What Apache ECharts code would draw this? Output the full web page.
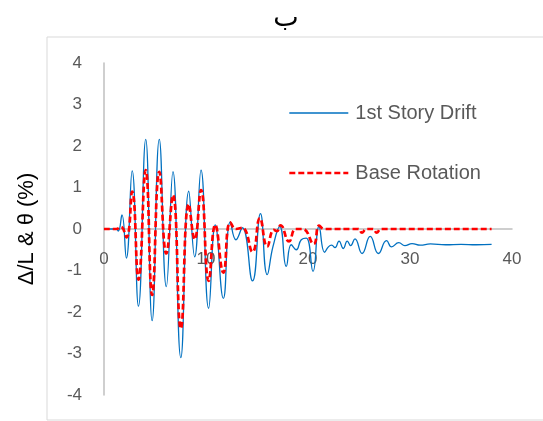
<!DOCTYPE html>
<html>
<head>
<meta charset="utf-8">
<script src="https://cdn.jsdelivr.net/npm/echarts@6/dist/echarts.min.js"></script>
<style>
html,body{margin:0;padding:0;background:#fff;}
#chart{width:543px;height:421px;}
</style>
</head>
<body>
<div id="chart"></div>
<script>
// ---- data ----
var titleText = 'ب';
var yAxisName = 'Δ/L & θ (%)';
var seriesNames = ['1st Story Drift', 'Base Rotation'];

var driftT = [0, 1.2, 1.4, 1.76, 2.19, 2.76, 3.38, 4.09, 4.72, 5.42, 6.11, 6.76, 7.53, 8.31, 8.89, 9.51, 10.26, 10.91, 11.7, 12.38, 12.94, 13.56, 14.56, 15.34, 16.0, 16.57, 17.23, 17.87, 18.36, 18.85, 19.34, 19.83, 20.49, 21.08, 21.63, 22.0, 22.32, 22.65, 23.04, 23.46, 23.85, 24.18, 24.6, 25.3, 26.1, 26.9, 27.7, 28.2, 28.9, 29.5, 30.2, 31.0, 32.0, 33.5, 35.0, 36.5, 38.0];
var driftV = [0, 0, -0.05, 0.34, -0.70, 1.40, -1.86, 2.16, -2.21, 2.16, -1.39, 1.38, -3.10, 0.91, -0.67, 1.42, -1.91, 0.10, -1.67, 0.17, -0.26, 0.03, -1.25, 0.37, -1.10, -0.42, 0.06, -0.90, -0.38, -0.50, -0.26, -0.22, -1.02, 0.06, -0.56, -0.43, -0.39, -0.45, -0.29, -0.47, -0.29, -0.40, -0.24, -0.59, -0.18, -0.59, -0.28, -0.43, -0.33, -0.40, -0.35, -0.39, -0.36, -0.38, -0.37, -0.38, -0.37];

var rotT = [0, 1.2, 1.65, 2.2, 2.76, 3.38, 4.09, 4.72, 5.42, 6.11, 6.76, 7.53, 8.31, 8.89, 9.51, 10.26, 10.91, 11.7, 12.38, 12.94, 13.56, 14.56, 15.28, 16.0, 16.65, 16.95, 17.3, 18.14, 18.8, 19.5, 20.55, 21.1, 21.6, 24.9, 25.3, 25.7, 26.35, 26.75, 27.15, 38.0];
var rotV = [0, 0, 0.05, -0.20, 0.90, -1.22, 1.42, -1.59, 1.38, -0.59, 0.82, -2.40, 0.60, -0.25, 0.94, -1.25, 0.10, -1.05, 0.16, 0.0, 0.03, -0.55, 0.26, -0.42, -0.02, -0.05, 0.09, -0.30, 0.0, 0.0, -0.36, 0.08, 0.0, 0.0, -0.09, 0.0, 0.0, -0.09, 0.0, 0.0];

var xTicks = {min: 0, max: 40, interval: 10};
var yTicks = {min: -4, max: 4, interval: 1};

function pairs(t, v) { return t.map(function (x, i) { return [x, v[i]]; }); }

var chart = echarts.init(document.getElementById('chart'), null, {renderer: 'canvas'});
chart.setOption({
  animation: false,
  backgroundColor: '#ffffff',
  graphic: [
    {type: 'rect', shape: {x: 47, y: 37, width: 520, height: 383}, style: {fill: 'none', stroke: '#D9D9D9', lineWidth: 1}, z: -1},
    {type: 'text', x: 286, y: 19, style: {text: titleText, font: '27px "DejaVu Sans"', fill: '#000000', textAlign: 'center', textVerticalAlign: 'middle'}}
  ],
  grid: {left: 104, right: 31, top: 63, bottom: 26, containLabel: false, outerBoundsMode: 'none'},
  legend: {
    orient: 'vertical', left: 283, top: 98, itemWidth: 59, itemHeight: 14, itemGap: 40,
    itemStyle: {opacity: 0},
    lineStyle: {width: 2.6},
    textStyle: {fontSize: 20, color: '#595959', fontFamily: 'Liberation Sans', padding: [0, 0, 0, 2]},
    data: [
      {name: seriesNames[0], lineStyle: {width: 1.3}},
      {name: seriesNames[1], lineStyle: {width: 2.6}}
    ]
  },
  xAxis: {
    type: 'value', min: xTicks.min, max: xTicks.max, interval: xTicks.interval,
    position: 'bottom', offset: -166,
    axisLine: {onZero: false, lineStyle: {color: '#BFBFBF', width: 1.5}},
    axisTick: {show: false}, splitLine: {show: false},
    axisLabel: {fontSize: 17, color: '#595959', fontFamily: 'Liberation Sans', margin: 22}
  },
  yAxis: {
    type: 'value', min: yTicks.min, max: yTicks.max, interval: yTicks.interval,
    name: yAxisName, nameLocation: 'middle', nameRotate: 90, nameGap: 66,
    nameTextStyle: {fontSize: 22, color: '#000000', fontFamily: 'Liberation Sans'},
    axisLine: {show: true, lineStyle: {color: '#BFBFBF', width: 1.5}},
    axisTick: {show: false}, splitLine: {show: false},
    axisLabel: {fontSize: 17, color: '#595959', fontFamily: 'Liberation Sans', margin: 22}
  },
  series: [
    {
      name: seriesNames[0], type: 'line', data: pairs(driftT, driftV), smooth: 0.5,
      symbol: 'none', lineStyle: {color: '#0070C0', width: 1.3}, itemStyle: {color: '#0070C0'}, z: 2
    },
    {
      name: seriesNames[1], type: 'line', data: pairs(rotT, rotV), smooth: 0.5,
      symbol: 'none', lineStyle: {color: '#FF0000', width: 2.7, type: [6, 3]}, itemStyle: {color: '#FF0000'}, z: 3
    }
  ]
});
</script>
</body>
</html>
